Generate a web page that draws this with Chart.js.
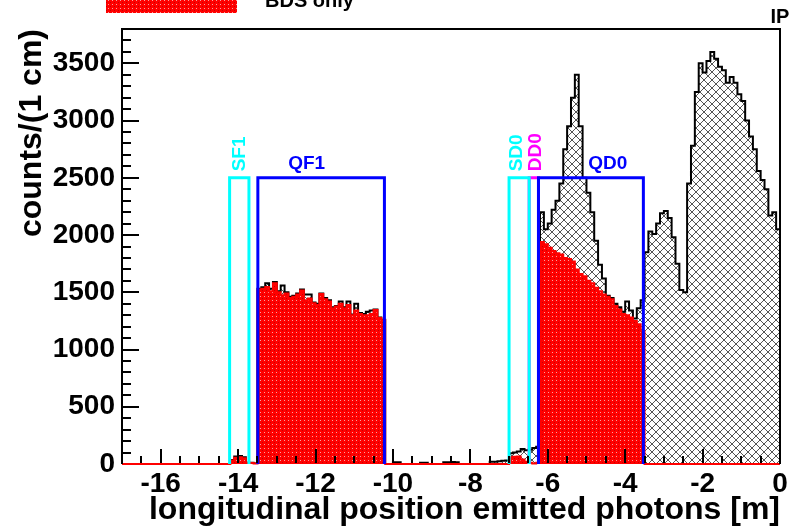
<!DOCTYPE html>
<html>
<head>
<meta charset="utf-8">
<script src="https://cdn.jsdelivr.net/npm/chart.js@4.4.0/dist/chart.umd.min.js"></script>
<style>
  html, body { margin: 0; padding: 0; background: #fff; }
</style>
</head>
<body>
<canvas id="chart" width="796" height="530"></canvas>
<script>
// histogram binning (metres)
var binStart = -17;
var binWidth = 0.1;

// all emitted photons, one row per metre
var totalCounts = [
  0, 0, 0, 0, 0, 0, 0, 0, 0, 0,                                // -17 .. -16
  0, 0, 0, 0, 0, 0, 0, 0, 0, 0,                                // -16 .. -15
  0, 0, 0, 0, 0, 0, 0, 0, 35, 65,                              // -15 .. -14
  70, 60, 12, 10, 5, 1530, 1545, 1580, 1530, 1590,             // -14 .. -13
  1510, 1560, 1500, 1460, 1470, 1490, 1525, 1480, 1480, 1410,  // -13 .. -12
  1400, 1490, 1450, 1430, 1370, 1380, 1420, 1370, 1420, 1305,  // -12 .. -11
  1400, 1320, 1310, 1330, 1340, 1350, 1280, 1260, 0, 0,        // -11 .. -10
  15, 15, 0, 0, 0, 0, 0, 12, 12, 0,                            // -10 .. -9
  0, 0, 0, 15, 15, 18, 15, 0, 0, 0,                            // -9 .. -8
  0, 0, 0, 0, 0, 20, 20, 25, 28, 30,                           // -8 .. -7
  95, 100, 110, 130, 120, 125, 140, 150, 2200, 2050,           // -7 .. -6
  2100, 2220, 2300, 2450, 2750, 2950, 3200, 3400, 2950, 2500,  // -6 .. -5
  2370, 2200, 1950, 1740, 1620, 1470, 1450, 1400, 1370, 1330,  // -5 .. -4
  1420, 1340, 1270, 1360, 1430, 1850, 2030, 2010, 2100, 2190,  // -4 .. -3
  2210, 2150, 1980, 1750, 1520, 1500, 2450, 2780, 3250, 3500,  // -3 .. -2
  3420, 3520, 3600, 3540, 3470, 3440, 3330, 3380, 3330, 3230,  // -2 .. -1
  3170, 3000, 2860, 2750, 2560, 2480, 2400, 2170, 2200, 2050   // -1 .. 0
];

// photons emitted in the BDS only
var bdsCounts = [
  0, 0, 0, 0, 0, 0, 0, 0, 0, 0,
  0, 0, 0, 0, 0, 0, 0, 0, 0, 0,
  0, 0, 0, 0, 0, 0, 0, 0, 30, 55,
  60, 50, 10, 8, 5, 1525, 1530, 1547, 1510, 1580,
  1500, 1475, 1490, 1450, 1460, 1480, 1515, 1430, 1445, 1404,
  1390, 1486, 1440, 1420, 1360, 1375, 1400, 1360, 1390, 1300,
  1340, 1310, 1300, 1300, 1310, 1345, 1275, 1255, 0, 0,
  0, 0, 0, 0, 0, 0, 0, 0, 0, 0,
  0, 0, 0, 0, 0, 0, 0, 0, 0, 0,
  0, 0, 0, 0, 0, 0, 0, 0, 0, 0,
  60, 64, 65, 40, 20, 10, 5, 10, 1940, 1920,
  1890, 1860, 1840, 1830, 1800, 1790, 1770, 1700, 1660, 1640,
  1600, 1580, 1540, 1510, 1480, 1460, 1440, 1380, 1350, 1310,
  1300, 1280, 1250, 1220, 1160, 0, 0, 0, 0, 0,
  0, 0, 0, 0, 0, 0, 0, 0, 0, 0,
  0, 0, 0, 0, 0, 0, 0, 0, 0, 0,
  0, 0, 0, 0, 0, 0, 0, 0, 0, 0
];

// axis labels
var xTickValues = [-16, -14, -12, -10, -8, -6, -4, -2, 0];
var yTickValues = [0, 500, 1000, 1500, 2000, 2500, 3000, 3500];

// magnets along the beam line
var magnetNames = ['SF1', 'QF1', 'SD0', 'DD0', 'QD0'];
var magnetStart = [-14.22, -13.49, -7.0, -6.48, -6.24];
var magnetEnd = [-13.72, -10.22, -6.48, -6.24, -3.53];
var magnetHeight = 2500;
var magnetLabelX = [-13.97, -12.23, -6.81, -6.32, -4.45];
var magnetColors = ['#00ffff', '#0000ff', '#00ffff', '#ff00ff', '#0000ff'];

var FONT = '"Liberation Sans", Arial, Helvetica, sans-serif';

function histPoints(counts) {
  var pts = [];
  for (var i = 0; i < counts.length; i++) {
    pts.push({ x: Math.round((binStart + i * binWidth) * 100) / 100, y: counts[i] });
  }
  pts.push({ x: Math.round((binStart + counts.length * binWidth) * 100) / 100, y: counts[counts.length - 1] });
  return pts;
}

function makeHatch() {
  var c = document.createElement('canvas');
  c.width = 8; c.height = 8;
  var g = c.getContext('2d');
  g.fillStyle = '#fff';
  g.fillRect(0, 0, 8, 8);
  g.strokeStyle = '#555';
  g.lineWidth = 1;
  g.beginPath();
  g.moveTo(-1, -1); g.lineTo(9, 9);
  g.moveTo(-1, 9); g.lineTo(9, -1);
  g.stroke();
  return g.createPattern(c, 'repeat');
}

function makeRedDots() {
  var c = document.createElement('canvas');
  c.width = 4; c.height = 4;
  var g = c.getContext('2d');
  g.fillStyle = '#ff0000';
  g.fillRect(0, 0, 4, 4);
  g.fillStyle = '#ff9c9c';
  g.fillRect(0, 0, 1, 1);
  g.fillStyle = '#c40000';
  g.fillRect(2, 2, 1, 1);
  return g.createPattern(c, 'repeat');
}

var datasets = [];
for (var m = 0; m < magnetNames.length; m++) {
  datasets.push({
    label: magnetNames[m],
    data: [
      { x: magnetStart[m], y: 0 },
      { x: magnetStart[m], y: magnetHeight },
      { x: magnetEnd[m], y: magnetHeight },
      { x: magnetEnd[m], y: 0 }
    ],
    borderColor: magnetColors[m],
    borderWidth: 3,
    borderJoinStyle: 'miter',
    pointRadius: 0,
    fill: false,
    tension: 0,
    order: magnetNames[m] === 'DD0' ? 1 : 0
  });
}
datasets.push({
  label: 'BDS only',
  data: histPoints(bdsCounts),
  stepped: 'before',
  borderColor: '#ff0000',
  borderWidth: 2,
  backgroundColor: makeRedDots(),
  fill: 'origin',
  pointRadius: 0,
  clip: { left: 0, top: 0, right: 0, bottom: 2 },
  order: 2
});
datasets.push({
  label: 'all',
  data: histPoints(totalCounts),
  stepped: 'before',
  borderColor: '#000',
  borderWidth: 2,
  backgroundColor: makeHatch(),
  fill: 'origin',
  pointRadius: 0,
  order: 3
});

var rootFrame = {
  id: 'rootFrame',
  afterDatasetsDraw: function (chart) {
    var ctx = chart.ctx, a = chart.chartArea;
    var xs = chart.scales.x, ys = chart.scales.y;
    ctx.save();
    ctx.strokeStyle = '#000';
    ctx.lineWidth = 2;
    ctx.beginPath();
    ctx.moveTo(a.left, a.bottom);
    ctx.lineTo(a.left, a.top);
    ctx.lineTo(a.right, a.top);
    ctx.lineTo(a.right, a.bottom);
    ctx.stroke();

    // inward ticks, ROOT style
    ctx.lineWidth = 2;
    ctx.beginPath();
    for (var v = 100; v < ys.max; v += 100) {
      var py = Math.round(ys.getPixelForValue(v));
      var len = v % 500 === 0 ? 17 : 9;
      ctx.moveTo(a.left, py);
      ctx.lineTo(a.left + len, py);
    }
    for (var k = -33; k < 0; k++) {
      var xv = k * 0.5;
      var px = Math.round(xs.getPixelForValue(xv));
      var l2 = xv % 2 === 0 ? 15 : 8;
      ctx.moveTo(px, a.bottom - 1);
      ctx.lineTo(px, a.bottom - l2);
    }
    ctx.stroke();

    // magnet names
    var topY = ys.getPixelForValue(magnetHeight);
    ctx.font = 'bold 19px ' + FONT;
    for (var m = 0; m < magnetNames.length; m++) {
      var lx = xs.getPixelForValue(magnetLabelX[m]);
      ctx.fillStyle = magnetColors[m];
      if (magnetNames[m].charAt(0) === 'Q') {
        ctx.textAlign = 'center';
        ctx.textBaseline = 'alphabetic';
        ctx.fillText(magnetNames[m], lx, topY - 8.5);
      } else {
        ctx.save();
        ctx.translate(lx, topY - 6.5);
        ctx.rotate(-Math.PI / 2);
        ctx.textAlign = 'left';
        ctx.textBaseline = 'middle';
        ctx.fillText(magnetNames[m], 0, 0);
        ctx.restore();
      }
    }

    // IP marker
    ctx.fillStyle = '#000';
    ctx.font = 'bold 20px ' + FONT;
    ctx.textAlign = 'center';
    ctx.textBaseline = 'alphabetic';
    ctx.fillText('IP', xs.getPixelForValue(0), 23);

    // legend (cut by the top edge)
    ctx.fillStyle = makeRedDots();
    ctx.fillRect(106, -6, 131, 19);
    ctx.fillStyle = '#000';
    ctx.textAlign = 'left';
    ctx.fillText('BDS only', 265, 7);
    ctx.restore();
  }
};

new Chart(document.getElementById('chart').getContext('2d'), {
  type: 'line',
  data: { datasets: datasets },
  options: {
    responsive: false,
    animation: false,
    layout: { padding: { left: 0, right: 16, top: 29, bottom: 0 } },
    plugins: {
      legend: { display: false },
      tooltip: { enabled: false }
    },
    scales: {
      x: {
        type: 'linear',
        min: -17,
        max: 0,
        grid: { display: false, drawTicks: false },
        border: { display: false },
        afterBuildTicks: function (s) {
          s.ticks = xTickValues.map(function (v) { return { value: v }; });
        },
        ticks: {
          autoSkip: false,
          maxRotation: 0,
          padding: 3,
          color: '#000',
          font: { family: FONT, size: 28, weight: 'bold' },
          callback: function (v) { return String(v); }
        },
        title: {
          display: true,
          text: 'longitudinal position emitted photons [m]',
          align: 'end',
          color: '#000',
          font: { family: FONT, size: 32, weight: 'bold' },
          padding: { top: 0, bottom: 1 }
        },
        afterFit: function (s) { s.height = 66; }
      },
      y: {
        min: 0,
        max: 3800,
        grid: { display: false, drawTicks: false },
        border: { display: false },
        afterBuildTicks: function (s) {
          s.ticks = yTickValues.map(function (v) { return { value: v }; });
        },
        ticks: {
          autoSkip: false,
          padding: 7,
          color: '#000',
          font: { family: FONT, size: 28, weight: 'bold' },
          callback: function (v) { return String(v); }
        },
        title: {
          display: true,
          text: 'counts/(1 cm)',
          align: 'end',
          color: '#000',
          font: { family: FONT, size: 32, weight: 'bold' },
          padding: { top: 13, bottom: 0 }
        },
        afterFit: function (s) { s.width = 122; }
      }
    }
  },
  plugins: [rootFrame]
});
</script>
</body>
</html>
